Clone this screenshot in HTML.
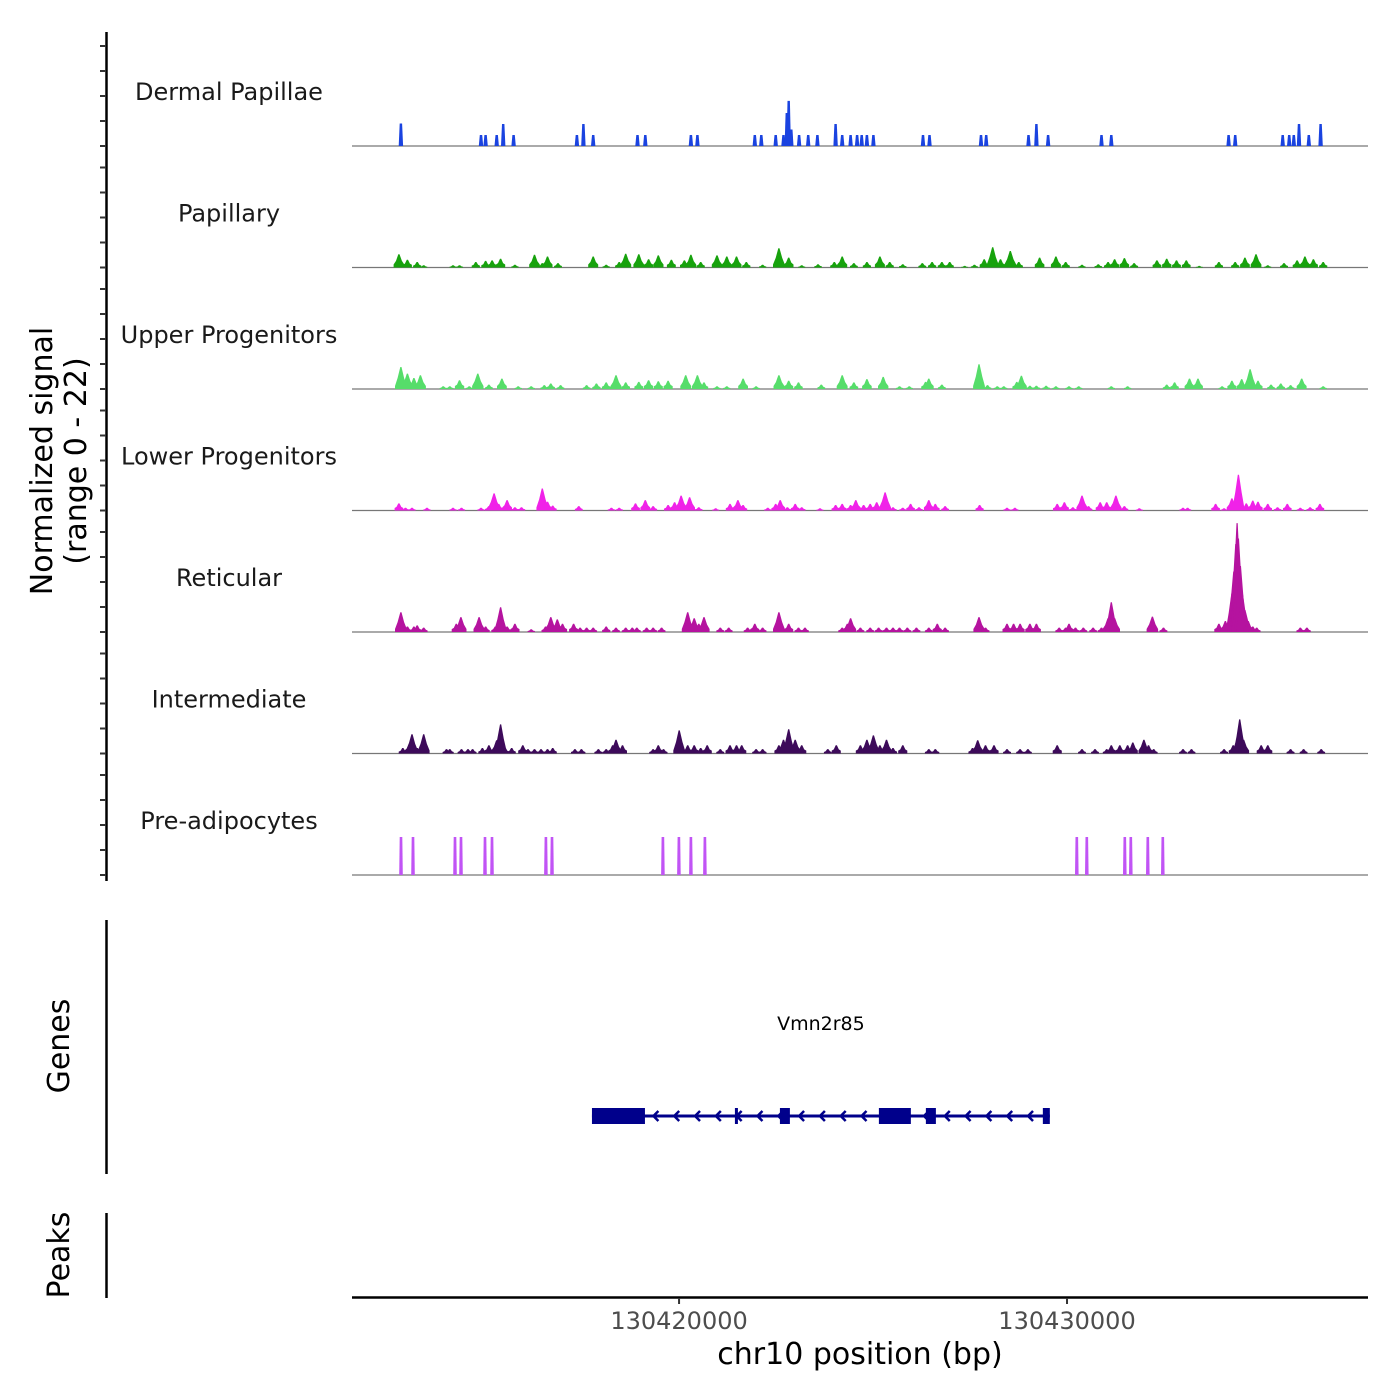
<!DOCTYPE html>
<html><head><meta charset="utf-8">
<style>
html,body{margin:0;padding:0;background:#fff;}
svg{display:block;font-family:"DejaVu Sans","Liberation Sans",sans-serif;}
</style></head>
<body>
<svg id="chart" width="1400" height="1400" viewBox="0 0 1400 1400" xmlns="http://www.w3.org/2000/svg">
<rect width="1400" height="1400" fill="#fff"/>
<g id="tracks"></g>
<g id="axes"></g>
<g id="genes"></g>
<text transform="translate(52,461) rotate(-90)" text-anchor="middle" font-size="30" fill="#000">Normalized signal</text>
<text transform="translate(86,461) rotate(-90)" text-anchor="middle" font-size="30" fill="#000">(range 0 - 22)</text>
<text transform="translate(69,1046) rotate(-90)" text-anchor="middle" font-size="30" fill="#000">Genes</text>
<text transform="translate(69,1255) rotate(-90)" text-anchor="middle" font-size="30" fill="#000">Peaks</text>
<text x="860" y="1364" text-anchor="middle" font-size="30" fill="#000">chr10 position (bp)</text>
</svg>
<script>
const regionStart = 130411570;
const regionEnd = 130437758;
const trackNames = ["Dermal Papillae","Papillary","Upper Progenitors","Lower Progenitors","Reticular","Intermediate","Pre-adipocytes"];
const trackColors = ["#1a43e0","#17a20d","#56dd6a","#f022e8","#b5139f","#3d0a5a","#c154f5"];
const xTicks = [130420000,130430000];
const xTickLabels = ["130420000","130430000"];
const yTickValues = [0,5,10,15,20];

const dpPos = [1260,3326,3444,3730,3898,4166,5796,5964,6216,7358,7560,8736,8904,10382,10550,10920,11122,11206,11256,11323,11525,11760,11995,12466,12634,12852,13020,13138,13272,13440,14717,14885,16212,16346,17438,17640,17942,19320,19572,22596,22764,23990,24158,24276,24410,24662,24965];
const dpVal = [4.1,2,2,2,4,2,2,4,2,2,2,2,2,2,2,2,2,6,8.2,3,2,2,2,4,2,2,2,2,2,2,2,2,2,2,2,4,2,2,2,2,2,2,2,2,4,2,4];

const papPos = [1210,1428,1680,1848,2604,2772,3192,3444,3612,3830,4200,4704,4906,5040,5309,6216,6552,6888,7056,7392,7644,7896,8232,8568,8736,8988,9408,9660,9912,10164,10584,11004,11256,11592,12012,12432,12634,12936,13272,13608,13860,14196,14700,14952,15204,15406,15792,16044,16296,16514,16716,16968,17186,17724,18144,18396,18816,19236,19488,19656,19908,20160,20748,21000,21252,21504,21840,22344,22764,23016,23302,23604,24024,24360,24562,24780,25032];
const papVal = [2.4,1.4,1,0.4,0.4,0.4,1,1.2,1.3,1.6,0.5,2.3,0.8,2,0.8,2,0.5,1,2.5,2.4,1.5,2.2,1.4,1.3,2.3,1,2.2,2,2,1,0.5,3.5,1.8,0.4,0.6,1,2,0.8,1,2,1,0.6,0.8,1,1,1,0.3,0.5,1.5,3.7,1.5,3,1,1.8,2,1,0.5,0.6,1,1.5,1.7,0.8,1.3,1.6,1.3,1.3,0.3,1,1,1.8,2.4,0.4,0.8,1.3,2,1.5,1];

const upPos = [1260,1428,1596,1764,2352,2520,2772,3024,3242,3528,3864,4284,4620,4956,5124,5376,6048,6300,6552,6804,7056,7392,7644,7896,8148,8602,8904,9072,9408,9660,10080,10416,11004,11256,11508,12096,12634,12936,13272,13692,14112,14364,14784,14868,15204,16162,16380,16632,16800,17136,17254,17472,17640,17892,18144,18480,18732,19572,19992,21000,21202,21588,21806,22428,22680,22932,23150,23352,23688,23940,24192,24478,25032];
const upVal = [4,2.8,2,2.5,0.5,0.5,1.6,0.5,2.8,0.8,1.9,0.5,0.5,0.7,1,0.7,0.7,1,1.2,2.5,1.2,1.3,1.6,1.4,1.5,2.5,2.5,1.2,0.5,0.5,1.9,0.5,2.5,1.5,1.2,0.8,2.5,1.2,1.8,2.2,0.5,0.5,1.3,1.9,0.8,4.5,0.7,0.5,0.5,1.3,2.4,0.6,0.6,0.6,0.5,0.5,0.5,0.5,0.5,0.8,1.2,1.9,1.9,0.5,1.5,1.8,3.6,1.5,0.8,1,0.7,1.9,0.5];

const lpPos = [1210,1378,1546,1932,2604,2822,3326,3528,3662,3780,3998,4200,4368,4906,5040,5174,5846,6686,6888,7308,7560,7762,8148,8316,8484,8702,8938,9374,9744,9946,10080,10718,10920,11038,11222,11424,11592,12062,12466,12634,12852,12986,13188,13356,13524,13742,13944,14196,14398,14616,14868,15036,15288,16178,16884,17086,18178,18362,18581,18816,18984,19286,19454,19690,19908,20294,21420,21538,22260,22478,22680,22848,23050,23218,23352,23604,23856,24108,24444,24696,24948];
const lpVal = [1.3,0.5,0.5,0.5,0.5,0.5,0.5,0.8,3.1,1.2,1.9,0.6,0.6,4,1.6,0.9,0.8,0.5,0.5,1.3,1.9,0.8,1,1.5,2.7,2.4,0.6,0.4,1.2,1.9,1,0.5,1.2,1.9,0.6,1.2,0.6,0.4,1,1.2,1,1.9,1,1.2,1.5,3.3,0.6,0.5,1.2,0.6,1.9,1.2,0.8,1,0.5,0.5,1.2,1.5,0.6,2.7,0.8,1.5,1.5,2.7,0.8,0.4,0.5,0.5,1.2,0.4,2.2,6.5,1.3,1.8,1.6,1.2,0.6,1.2,0.5,0.6,1.2];

const retPos = [1260,1428,1596,1680,1848,2688,2806,3276,3444,3696,3830,3998,4200,4620,4990,5124,5292,5426,5712,5880,6048,6216,6552,6804,7056,7224,7342,7594,7762,7980,8652,8820,8938,9072,9492,9710,10198,10382,10584,11004,11256,11508,11676,12634,12768,12852,13104,13356,13574,13776,13944,14112,14314,14549,14868,15086,15288,16162,16330,16884,17052,17220,17472,17640,18228,18396,18480,18648,18850,19102,19320,19488,19572,19656,20630,20916,22344,22512,22680,22730,22781,22814,22848,22898,22949,23016,23100,23218,23318,24444,24612];
const retVal = [3.6,1,1,1.2,0.8,1.5,2.7,2.7,1,1,4.5,1,1.5,0.5,1,2.7,2.3,1.5,1.5,0.8,0.8,0.8,1,0.8,0.8,0.8,0.8,0.8,0.8,0.8,3.6,2.5,1.5,2.7,0.8,0.8,0.8,1.5,0.8,3.6,1.5,0.8,0.8,0.8,1.5,2.5,0.8,0.8,0.8,0.8,0.8,0.8,0.8,0.8,0.8,1.5,0.8,2.7,0.8,1.5,1.5,1.5,1.5,1.5,0.8,0.8,1.5,0.8,0.8,0.8,0.8,2.5,5.4,2.5,2.8,0.8,1.5,2,7,11,16,19.8,17,12,7,4,2,1,0.8,0.8,0.8];

const intPos = [1310,1478,1546,1680,1848,2436,2520,2822,2990,3108,3360,3528,3730,3830,3948,4116,4402,4536,4704,4872,5040,5174,5746,5914,6350,6552,6720,6804,6972,7762,7896,8030,8434,8652,8820,8988,9156,9492,9744,9912,10046,10416,10584,11004,11122,11256,11424,11592,12264,12482,13104,13272,13440,13608,13776,13944,14196,14868,15036,15994,16128,16330,16548,16884,17220,17422,18178,18816,19152,19454,19572,19790,19992,20126,20412,20530,20664,21420,21638,22478,22714,22814,22882,22982,23436,23604,24192,24528,24982];
const intVal = [1,1.8,3.5,1,3.5,0.8,0.8,0.8,0.8,0.8,1,1.5,2.4,5.3,1,1,1.5,0.8,0.8,0.8,0.8,1,0.8,0.8,0.8,0.8,1.5,2.5,1.5,0.8,1.5,0.8,4.2,1.5,1.5,1,1.5,0.8,1.5,1.5,1.5,0.8,0.8,1.5,2.5,4.4,2.5,1.5,0.8,1.5,1.5,2.5,3.3,1.5,2.5,1,1.5,0.8,0.8,1,2.4,1.5,1.5,0.8,0.8,0.8,1.5,0.8,0.8,0.8,1.5,1.5,1.5,2,2.5,1.5,0.8,0.8,0.8,0.8,1.5,2.5,6.2,2.5,1.5,1.5,0.8,0.8,0.8];

const preaPos = [1263,1572,2654,2809,3427,3608,4999,5154,8014,8427,8736,9097,18683,18941,19920,20075,20513,20899];
const preaVal = [6.9,6.9,6.9,6.9,6.9,6.9,6.9,6.9,6.9,6.9,6.9,6.9,6.9,6.9,6.9,6.9,6.9,6.9];

const trackPos = [dpPos,papPos,upPos,lpPos,retPos,intPos,preaPos];
const trackVal = [dpVal,papVal,upVal,lpVal,retVal,intVal,preaVal];

const geneName = "Vmn2r85";
const geneStart = 6185, geneEnd = 17987;
const exonStarts = [6185,9870,11030,13581,14792,17807];
const exonEnds = [7551,9947,11287,14405,15050,17987];

const NS="http://www.w3.org/2000/svg";
const X0=352, X1=1368;
const x = bp => X0 + (bp-(regionStart))/(regionEnd-regionStart)*(X1-X0);
const xo = off => x(regionStart+off);
const baselines=[146,267.5,389,510.5,632,753.5,875];
const PPU=5.5, TICKPX=5;
const y = (t,v) => baselines[t]-v*PPU;
function mk(tag,attrs,parent){const e=document.createElementNS(NS,tag);for(const k in attrs)e.setAttribute(k,attrs[k]);parent.appendChild(e);return e;}

const tracks=document.getElementById('tracks');
trackNames.forEach((name,t)=>{
  const g=mk('g',{},tracks);
  
  
  const lab=mk('text',{x:229,y:baselines[t]-46,'text-anchor':'middle','font-size':24,fill:'#1a1a1a'},g);
  lab.textContent=name;
  
  
  const bl=mk('line',{x1:X0,x2:X1,y1:baselines[t],y2:baselines[t],stroke:'#777','stroke-width':1.2},g);
  
  
  const pos=trackPos[t], val=trackVal[t];
  pos.forEach((p,i)=>{
    const cx=xo(p), top=y(t,val[i]), b=baselines[t];
    let pts;
    if(t===6){ pts=[[cx-1.8,b],[cx-1.3,top],[cx+1.3,top],[cx+1.8,b]]; }
    else if(t===0){ pts=[[cx-2.2,b],[cx-1.2,top],[cx+1.2,top],[cx+2.2,b]]; }
    else { const w=3.2+Math.min(val[i],3)*0.9; const sh=Math.min(val[i]*PPU*0.35,3);
      pts=[[cx-w,b],[cx-w,b-sh],[cx-w*0.55,(top+b)/2],[cx-0.6,top],[cx+0.6,top],[cx+w*0.55,(top+b)/2],[cx+w,b-sh],[cx+w,b]]; }
    const pk=mk('polygon',{points:pts.map(q=>q[0].toFixed(1)+','+q[1].toFixed(1)).join(' '),fill:trackColors[t]},g);
    
    
  });
});

const axes=document.getElementById('axes');
const yl=mk('line',{x1:106.5,x2:106.5,y1:32,y2:881,stroke:'#000','stroke-width':2.5},axes);


baselines.forEach(b=>{
  yTickValues.forEach(v=>{
    const tk=mk('line',{x1:100,x2:106,y1:b-v*TICKPX,y2:b-v*TICKPX,stroke:'#333','stroke-width':2},axes);
    
    
  });
});
const gl=mk('line',{x1:106.5,x2:106.5,y1:920,y2:1174,stroke:'#000','stroke-width':2.5},axes);


const pl=mk('line',{x1:106.5,x2:106.5,y1:1213,y2:1298,stroke:'#000','stroke-width':2.5},axes);


const xl=mk('line',{x1:X0,x2:X1,y1:1297.5,y2:1297.5,stroke:'#000','stroke-width':2.5},axes);


xTicks.forEach((v,i)=>{
  const tk=mk('line',{x1:x(v),x2:x(v),y1:1298,y2:1304,stroke:'#333','stroke-width':2},axes);
  
  
  const tl=mk('text',{x:x(v),y:1329,'text-anchor':'middle','font-size':24,fill:'#4d4d4d'},axes);
  tl.textContent=xTickLabels[i];
  
  
});

const genes=document.getElementById('genes');
const GY=1116, GC='#00008b';
const gline=mk('line',{x1:xo(geneStart),x2:xo(geneEnd),y1:GY,y2:GY,stroke:GC,'stroke-width':3},genes);


const nArrows=22;
for(let i=1;i<nArrows;i++){
  const ax=xo(geneStart)+(xo(geneEnd)-xo(geneStart))*i/nArrows;
  const ar=mk('polyline',{points:`${ax+4},${GY-5} ${ax-1},${GY} ${ax+4},${GY+5}`,fill:'none',stroke:GC,'stroke-width':2.5},genes);
  
  
}
exonStarts.forEach((s,i)=>{
  const x1=xo(s), x2=Math.max(xo(exonEnds[i]), x1+3);
  const ex=mk('rect',{x:x1,y:GY-8,width:x2-x1,height:16,fill:GC},genes);
  
  
});
const gt=mk('text',{x:(xo(geneStart)+xo(geneEnd))/2,y:1030,'text-anchor':'middle','font-size':19,fill:'#000'},genes);
gt.textContent=geneName;


</script>
</body></html>
